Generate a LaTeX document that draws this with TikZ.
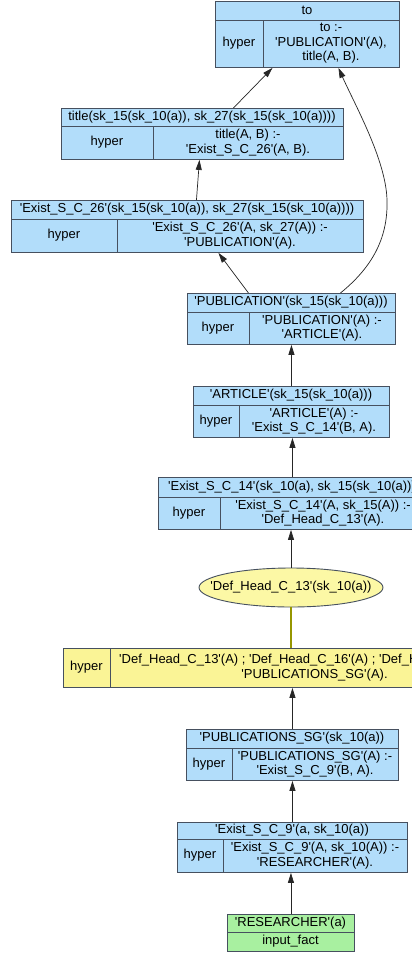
\documentclass[tikz,border=0pt]{standalone}
\usepackage{fontspec}
\setmainfont{Liberation Sans}
\usetikzlibrary{arrows.meta,shapes.geometric}

\definecolor{recblue}{RGB}{178,221,250}
\definecolor{recborder}{RGB}{70,80,95}
\definecolor{hypyellow}{RGB}{250,244,150}
\definecolor{elyellow}{RGB}{252,248,165}
\definecolor{factgreen}{RGB}{168,240,160}
\definecolor{oliveline}{RGB}{150,150,0}

\newcommand\q{\textquotesingle}
\newcommand\recfont{\fontsize{13}{14.5}\selectfont}

\tikzset{
  recbox/.style={rectangle, draw=recborder, line width=0.9pt, fill=recblue, inner sep=0pt, anchor=north west},
  recline/.style={draw=recborder, line width=0.9pt},
  rectext/.style={inner sep=0pt, align=center, font=\recfont, text=black},
  edge/.style={draw=black!85, line width=0.7pt, -{Triangle[length=10pt,width=6pt]}},
  joinline/.style={draw=oliveline, line width=2pt},
}

% record: name [left,top,right,header bottom,bottom,divider] {header} {rule}
\def\record#1[#2,#3,#4,#5,#6,#7]#8#9{%
  \node[recbox, minimum width={#4-#2}, minimum height={#6-#3}] (#1) at (#2,#3) {};
  \draw[recline] (#2,#5) -- (#4,#5);
  \draw[recline] (#7,#5) -- (#7,#6);
  \node[rectext] (#1-h) at ({(#2+#4)/2},{(#3+#5)/2}) {#8};
  \node[rectext] (#1-l) at ({(#2+#7)/2},{(#5+#6)/2}) {hyper};
  \node[rectext] (#1-r) at ({(#7+#4)/2},{(#5+#6)/2}) {#9};
}

\begin{document}
\begin{tikzpicture}[x=1pt,y=-1pt]
\useasboundingbox (0,0) rectangle (412,956);
\fill[white] (0,0) rectangle (412,956);
\clip (0,0) rectangle (412,956);

\record{to}[215,1,399,20,67,263]{to}{to :-\\\q PUBLICATION\q(A),\\title(A, B).}
\record{ti}[61,108,343,126,159,153]{title(sk\_15(sk\_10(a)), sk\_27(sk\_15(sk\_10(a))))}{title(A, B) :-\\\q Exist\_S\_C\_26\q(A, B).}
\record{ex26}[11,200,363,219,252,117]{\q Exist\_S\_C\_26\q(sk\_15(sk\_10(a)), sk\_27(sk\_15(sk\_10(a))))}{\q Exist\_S\_C\_26\q(A, sk\_27(A)) :-\\\q PUBLICATION\q(A).}
\record{pub}[187,293,395,312,344,249]{\q PUBLICATION\q(sk\_15(sk\_10(a)))}{\q PUBLICATION\q(A) :-\\\q ARTICLE\q(A).}
\record{art}[193,386,389,405,437,239]{\q ARTICLE\q(sk\_15(sk\_10(a)))}{\q ARTICLE\q(A) :-\\\q Exist\_S\_C\_14\q(B, A).}
\record{ex14}[158,477,426,497,529,220]{\q Exist\_S\_C\_14\q(sk\_10(a), sk\_15(sk\_10(a)))}{\q Exist\_S\_C\_14\q(A, sk\_15(A)) :-\\\q Def\_Head\_C\_13\q(A).}
\record{psg}[186,729,398,748,780,232]{\q PUBLICATIONS\_SG\q(sk\_10(a))}{\q PUBLICATIONS\_SG\q(A) :-\\\q Exist\_S\_C\_9\q(B, A).}
\record{ex9}[177,822,407,839,872,223]{\q Exist\_S\_C\_9\q(a, sk\_10(a))}{\q Exist\_S\_C\_9\q(A, sk\_10(A)) :-\\\q RESEARCHER\q(A).}

% the definition head as an ellipse
\node[ellipse, draw=recborder, line width=0.9pt, fill=elyellow, minimum width=184pt, minimum height=39pt, inner sep=0pt] (ell) at (291,587.5) {};
\node[rectext] (ell-t) at (ell.center) {\q Def\_Head\_C\_13\q(sk\_10(a))};

% the yellow hyper rule (one row)
\node[recbox, fill=hypyellow, minimum width=456pt, minimum height=39pt] (dh) at (63,648) {};
\draw[recline] (110,648) -- (110,687);
\node[rectext] (dh-l) at (86.5,667.5) {hyper};
\node[rectext] (dh-r) at (314.5,667.5) {\q Def\_Head\_C\_13\q(A) ; \q Def\_Head\_C\_16\q(A) ; \q Def\_Head\_C\_19\q(A) :-\\\q PUBLICATIONS\_SG\q(A).};

% the input fact
\node[recbox, fill=factgreen, minimum width=127pt, minimum height=37pt] (res) at (227,914) {};
\draw[recline] (227,932) -- (354,932);
\node[rectext] (res-h) at (290.5,923) {\q RESEARCHER\q(a)};
\node[rectext] (res-b) at (290.5,941.5) {input\_fact};

% connectors
\draw[edge] (res.north) -- (res.north |- ex9.south);
\draw[edge] (ex9.north) -- (ex9.north |- psg.south);
\draw[edge] (psg.north) -- (psg.north |- dh.south);
\draw[joinline] (ell.south) -- (ell.south |- dh.north);
\draw[edge] (ell.north) -- (ell.north |- ex14.south);
\draw[edge] (ex14.north) -- (ex14.north |- art.south);
\draw[edge] (art.north) -- (art.north |- pub.south);
\draw[edge] ([xshift=-43pt]pub.north) -- ([xshift=31pt]ex26.south);
\draw[edge] ([xshift=49pt]pub.north) .. controls (375,265) and (388,235) .. (387,200)
            .. controls (386,160) and (355,105) .. ([xshift=31pt]to.south);
\draw[edge] ([xshift=9pt]ex26.north) -- ([xshift=-3pt]ti.south);
\draw[edge] ([xshift=31pt]ti.north) -- ([xshift=-35pt]to.south);
\end{tikzpicture}
\end{document}
